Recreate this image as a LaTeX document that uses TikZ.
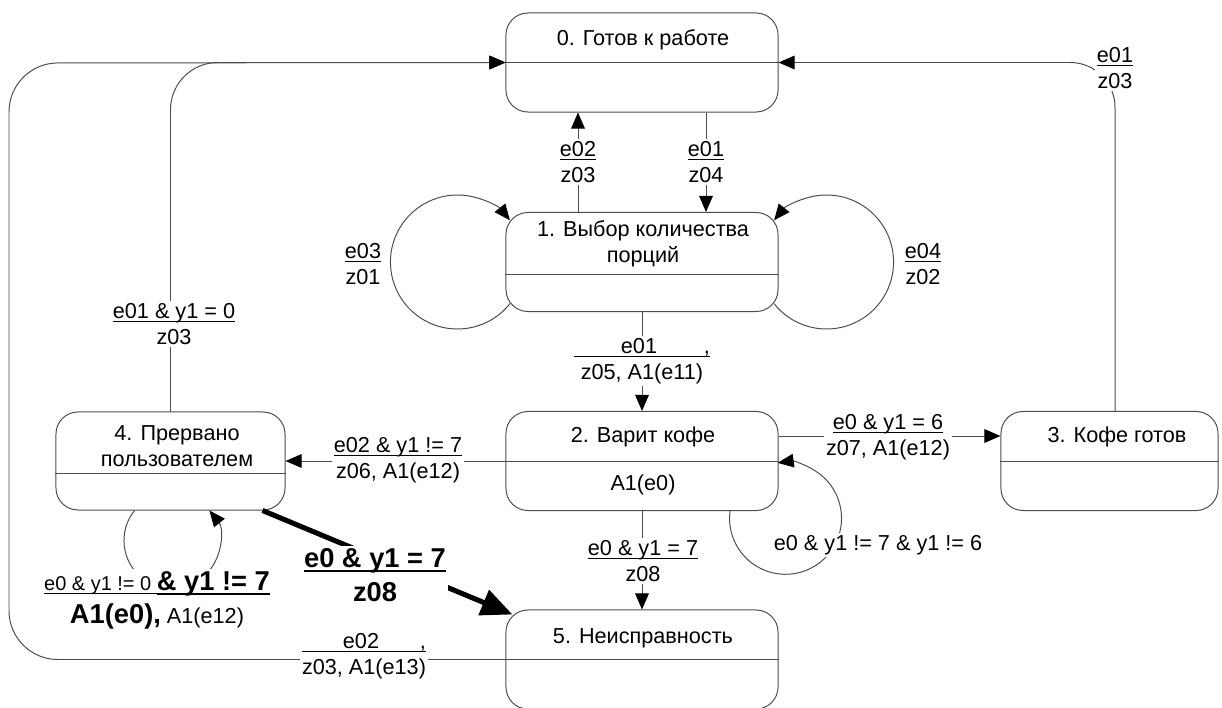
\documentclass[tikz,border=0pt]{standalone}
\usepackage{fontspec}
\setmainfont{Liberation Sans}
\usetikzlibrary{arrows.meta,calc}

% underlined numerator of a transition label
\newcommand{\ubar}[2][0.7pt]{\leavevmode\vtop{\setbox0\hbox{#2}\dp0=0pt\box0\kern2pt\hrule height #1}}
\newcommand{\bigbold}{\fontsize{19.4}{24}\selectfont\bfseries}

\begin{document}
\begin{tikzpicture}[x=0.025cm,y=0.025cm,
  every node/.style={font=\fontsize{15.4}{18.8}\selectfont},
  state/.style={draw=black!70,line width=0.7pt,rounded corners=0.55cm,
    minimum width=6.8cm,minimum height=2.475cm,inner sep=0pt},
  divider/.style={draw=black!70,line width=0.7pt},
  trans/.style={draw=black!70,line width=0.7pt,
    -{Triangle[length=0.4cm,width=0.34cm,color=black]}},
  heavy/.style={draw=black,line width=3.6pt,-{Triangle[length=0.78cm,width=0.66cm]}},
  lbl/.style={fill=white,inner sep=1.5pt,align=center}]
\useasboundingbox (0,0) rectangle (1222,-708);

% states
\node[state] (s0) at (642,-62.5) {};
\node[state] (s1) at (642,-262) {};
\node[state] (s2) at (642,-461) {};
\node[state,minimum width=5.425cm] (s3) at (1109.5,-461) {};
\node[state,minimum width=5.725cm,minimum height=2.45cm] (s4) at (170.5,-461) {};
\node[state] (s5) at (642,-659.5) {};

\draw[divider] (s0.west) -- (s0.east);
\draw[divider] ($(s1.west)+(0,-12)$) -- ($(s1.east)+(0,-12)$);
\draw[divider] (s2.west) -- (s2.east);
\draw[divider] (s3.west) -- (s3.east);
\draw[divider] ($(s4.west)+(0,-12)$) -- ($(s4.east)+(0,-12)$);
\draw[divider] (s5.west) -- (s5.east);

\node (t0) at (643,-40) {0. Готов к работе};
\node[align=center] (t1) at (643,-244) {1. Выбор количества\\порций};
\node (t2) at (643,-437) {2. Варит кофе};
\node (a2) at (643,-485) {A1(e0)};
\node (t3) at (1117,-437) {3. Кофе готов};
\node[align=center] (t4) at (177,-446) {4. Прервано\\пользователем};
\node (t5) at (643,-638) {5. Неисправность};

% transitions
\draw[trans] (s1.north -| 578,0) -- (s0.south -| 578,0);
\draw[trans] (s0.south -| 706,0) -- (s1.north -| 706,0);
\draw[trans] (s1.south) -- (s2.north);
\draw[trans] (s2.south) -- (s5.north);
\draw[trans] (s2.east |- 0,-436) -- (s3.west |- 0,-436);
\draw[trans] (s2.west) -- (s4.east);
\draw[trans,rounded corners=1.12cm] (s3.north -| 1115,0) |- (s0.east);
\draw[trans,rounded corners=1.18cm] (s4.north) |- (s0.west);
\draw[trans,rounded corners=1.22cm] (s5.west) -| (9,-63) -- (s0.west);
\draw[heavy] ($(s4.south east)+(-23,0)$) -- ($(s5.north west)+(7,-5)$);

% loops
\draw[trans] (s1.south west) ++(4.4,8.3) arc[start angle=321.5,end angle=38.5,radius=67];
\draw[trans] (s1.south east) ++(-4.4,8.3) arc[start angle=218.5,end angle=501.5,radius=67];
\draw[trans] (s2.south) ++(88,0) arc[start angle=172.5,end angle=458,radius=56];
\draw[trans] (s4.south) ++(-36,0) arc[start angle=141.3,end angle=398.7,radius=48];

% labels
\node[lbl] (l10) at (578,-162) {\ubar{e02}\\z03};
\node[lbl] (l01) at (706,-162) {\ubar{e01}\\z04};
\node[lbl] (l11a) at (363,-264) {\ubar{e03}\\z01};
\node[lbl] (l11b) at (923,-264) {\ubar{e04}\\z02};
\node[lbl] (l12) at (642,-361) {\ubar{\makebox[3.4cm]{\hfill e01\hfill,}}\\z05, A1(e11)};
\node[lbl] (l23) at (888,-437) {\ubar{e0 \& y1 = 6}\\z07, A1(e12)};
\node[lbl] (l24) at (398,-460) {\ubar{e02 \& y1 != 7}\\z06, A1(e12)};
\node[lbl] (l40) at (174,-324) {\ubar{e01 \& y1 = 0}\\z03};
\node[lbl] (l30) at (1115,-68) {\ubar{e01}\\z03};
\node[lbl] (l25) at (643,-561) {\ubar{e0 \& y1 = 7}\\z08};
\node[lbl] (l22) at (878,-545) {e0 \& y1 != 7 \& y1 != 6};
\node[lbl] (l50) at (364,-656) {\ubar{\makebox[3.1cm]{\hfill e02\hfill,}}\\z03, A1(e13)};
\node[lbl,font=\bigbold] (l45) at (375,-575) {\ubar[1.4pt]{e0 \& y1 = 7}\\z08};
\node[lbl,font=\fontsize{15.4}{23.5}\selectfont] (l44) at (157,-600)
  {\ubar{\fontsize{14.2}{17}\selectfont e0 \& y1 != 0 }\ubar[1.4pt]{\bigbold \& y1 != 7}\\{\bigbold A1(e0),} A1(e12)};
\end{tikzpicture}
\end{document}
